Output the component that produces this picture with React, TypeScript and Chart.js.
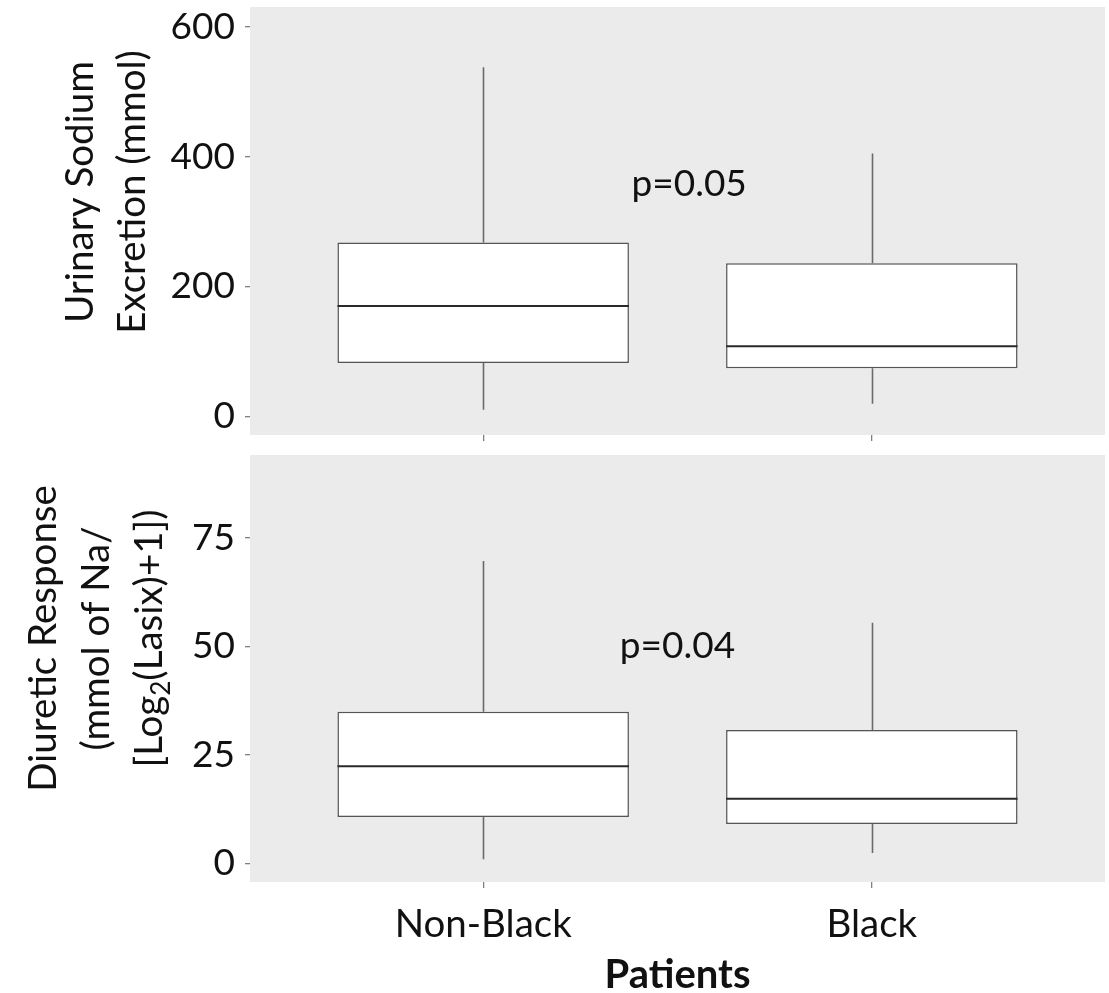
import React, { useEffect, useRef } from 'react';
import { Chart, registerables } from 'chart.js';

Chart.register(...registerables);

// ---------- data ----------
const categories = ['Non-Black', 'Black'];

const sodiumLow = [10, 19];
const sodiumQ1 = [82, 74];
const sodiumMedian = [170, 108];
const sodiumQ3 = [268, 236];
const sodiumHigh = [538, 405];
const sodiumTicks = [0, 200, 400, 600];
const sodiumRange = [-29, 631];
const sodiumPValue = 'p=0.05';
const sodiumPValueAt = [1.53, 358];

const responseLow = [1.0, 2.4];
const responseQ1 = [10.7, 9.1];
const responseMedian = [22.4, 14.9];
const responseQ3 = [34.9, 30.7];
const responseHigh = [69.6, 55.4];
const responseTicks = [0, 25, 50, 75];
const responseRange = [-4.26, 94];
const responsePValue = 'p=0.04';
const responsePValueAt = [1.5, 50];

const xRange = [0.4, 2.6];

type Seg = { t: string; sub?: boolean };
const sodiumTitle: Seg[][] = [[{ t: 'Urinary Sodium' }], [{ t: 'Excretion (mmol)' }]];
const responseTitle: Seg[][] = [
  [{ t: 'Diuretic Response' }],
  [{ t: '(mmol of Na/' }],
  [{ t: '[Log' }, { t: '2', sub: true }, { t: '(Lasix)+1])' }],
];
const xTitle = 'Patients';

// ---------- styling ----------
const FONT = 'Lato, "Open Sans", sans-serif';
const FS = 37;
const XFS = 38.5;
const TFS = 38.5;
const XTFS = 40;
const PANEL_BG = '#EBEBEB';
const TEXT = '#111111';
const TICK_COLOR = '#808080';

interface PanelOpts {
  low: number[];
  q1: number[];
  med: number[];
  q3: number[];
  high: number[];
  ticks: number[];
  range: number[];
  pText: string;
  pAt: number[];
  title: Seg[][];
  titleBaselines: number[];
  titleShift: number;
  showXLabels: boolean;
  xAxisHeight: number;
  padTop: number;
}

function panelPlugin(o: PanelOpts) {
  return {
    id: 'panelParts',
    beforeDraw(chart: any) {
      const { ctx, chartArea: a } = chart;
      ctx.save();
      ctx.fillStyle = PANEL_BG;
      ctx.fillRect(a.left, a.top, a.right - a.left, a.bottom - a.top);
      ctx.restore();
    },
    beforeDatasetsDraw(chart: any) {
      const { ctx } = chart;
      const xs = chart.scales.x;
      const ys = chart.scales.y;
      ctx.save();
      ctx.strokeStyle = '#6a6a6a';
      ctx.lineWidth = 1.6;
      categories.forEach((_, i) => {
        const x = Math.round(xs.getPixelForValue(i + 1)) + 0.5;
        ctx.beginPath();
        ctx.moveTo(x, ys.getPixelForValue(o.q3[i]));
        ctx.lineTo(x, ys.getPixelForValue(o.high[i]));
        ctx.moveTo(x, ys.getPixelForValue(o.q1[i]));
        ctx.lineTo(x, ys.getPixelForValue(o.low[i]));
        ctx.stroke();
      });
      ctx.restore();
    },
    afterDatasetsDraw(chart: any) {
      const { ctx } = chart;
      const xs = chart.scales.x;
      const ys = chart.scales.y;
      const meta = chart.getDatasetMeta(0);
      ctx.save();
      ctx.strokeStyle = '#2a2a2a';
      ctx.lineWidth = 2;
      meta.data.forEach((bar: any, i: number) => {
        const { x, width } = bar.getProps(['x', 'width'], true);
        const y = ys.getPixelForValue(o.med[i]);
        ctx.beginPath();
        ctx.moveTo(x - width / 2, y);
        ctx.lineTo(x + width / 2, y);
        ctx.stroke();
      });
      ctx.fillStyle = TEXT;
      ctx.font = `${FS}px ${FONT}`;
      ctx.textAlign = 'center';
      ctx.textBaseline = 'middle';
      ctx.fillText(o.pText, xs.getPixelForValue(o.pAt[0]), ys.getPixelForValue(o.pAt[1]));
      ctx.restore();
    },
    afterDraw(chart: any) {
      const { ctx, chartArea: a } = chart;
      const cy = (a.top + a.bottom) / 2 + o.titleShift;
      ctx.save();
      ctx.fillStyle = TEXT;
      o.title.forEach((line, li) => {
        ctx.save();
        ctx.translate(o.titleBaselines[li], cy);
        ctx.rotate(-Math.PI / 2);
        ctx.textBaseline = 'alphabetic';
        ctx.textAlign = 'left';
        const fontFor = (s: Seg) => (s.sub ? `${Math.round(TFS * 0.68)}px ${FONT}` : `${TFS}px ${FONT}`);
        let total = 0;
        line.forEach((s) => {
          ctx.font = fontFor(s);
          total += ctx.measureText(s.t).width;
        });
        let x = -total / 2;
        line.forEach((s) => {
          ctx.font = fontFor(s);
          ctx.fillText(s.t, x, s.sub ? TFS * 0.2 : 0);
          x += ctx.measureText(s.t).width;
        });
        ctx.restore();
      });
      if (o.showXLabels) {
        ctx.font = `bold ${XTFS}px ${FONT}`;
        ctx.textAlign = 'center';
        ctx.textBaseline = 'middle';
        ctx.fillText(xTitle, (a.left + a.right) / 2, chart.height - 18);
      }
      ctx.restore();
    },
  };
}

function buildChart(canvas: HTMLCanvasElement, o: PanelOpts) {
  return new Chart(canvas, {
    type: 'bar',
    data: {
      datasets: [
        {
          data: categories.map((_, i) => ({ x: i + 1, y: [o.q1[i], o.q3[i]] })) as any,
          backgroundColor: '#FFFFFF',
          borderColor: '#555555',
          borderWidth: 1.5,
          borderSkipped: false,
          barPercentage: 0.75,
          categoryPercentage: 1,
        },
      ],
    },
    options: {
      responsive: false,
      animation: false,
      devicePixelRatio: 1,
      layout: { padding: { left: 0, right: 4, top: o.padTop, bottom: 0 } },
      plugins: { legend: { display: false }, tooltip: { enabled: false } },
      scales: {
        x: {
          type: 'linear',
          min: xRange[0],
          max: xRange[1],
          offset: false,
          bounds: 'data',
          afterBuildTicks: (s: any) => {
            s.ticks = categories.map((_, i) => ({ value: i + 1 }));
          },
          afterFit: (s: any) => {
            s.height = o.xAxisHeight;
            s.paddingLeft = 0;
            s.paddingRight = 0;
          },
          grid: {
            display: true,
            drawOnChartArea: false,
            drawTicks: true,
            tickLength: 6,
            color: TICK_COLOR,
            lineWidth: 1.3,
            offset: false,
          },
          border: { display: false },
          ticks: {
            display: o.showXLabels,
            autoSkip: false,
            maxRotation: 0,
            padding: 13,
            color: TEXT,
            font: { family: FONT, size: XFS },
            callback: (v: any) => categories[Math.round(Number(v)) - 1] ?? '',
          },
        },
        y: {
          type: 'linear',
          min: o.range[0],
          max: o.range[1],
          bounds: 'data',
          afterBuildTicks: (s: any) => {
            s.ticks = o.ticks.map((v) => ({ value: v }));
          },
          afterFit: (s: any) => {
            s.width = 250;
            s.paddingTop = 0;
            s.paddingBottom = 0;
          },
          grid: {
            display: true,
            drawOnChartArea: false,
            drawTicks: true,
            tickLength: 5,
            color: TICK_COLOR,
            lineWidth: 1.3,
          },
          border: { display: false },
          ticks: {
            padding: 10,
            color: TEXT,
            font: { family: FONT, size: FS },
            callback: (v: any) => String(v),
          },
        },
      },
    } as any,
    plugins: [panelPlugin(o)],
  });
}

export default function App() {
  const topRef = useRef<HTMLCanvasElement>(null);
  const bottomRef = useRef<HTMLCanvasElement>(null);

  useEffect(() => {
    const c1 = buildChart(topRef.current!, {
      low: sodiumLow,
      q1: sodiumQ1,
      med: sodiumMedian,
      q3: sodiumQ3,
      high: sodiumHigh,
      ticks: sodiumTicks,
      range: sodiumRange,
      pText: sodiumPValue,
      pAt: sodiumPValueAt,
      title: sodiumTitle,
      titleBaselines: [93, 145],
      titleShift: -29,
      showXLabels: false,
      xAxisHeight: 10,
      padTop: 7,
    });
    const c2 = buildChart(bottomRef.current!, {
      low: responseLow,
      q1: responseQ1,
      med: responseMedian,
      q3: responseQ3,
      high: responseHigh,
      ticks: responseTicks,
      range: responseRange,
      pText: responsePValue,
      pAt: responsePValueAt,
      title: responseTitle,
      titleBaselines: [56, 109, 162],
      titleShift: -30,
      showXLabels: true,
      xAxisHeight: 111,
      padTop: 10,
    });
    return () => {
      c1.destroy();
      c2.destroy();
    };
  }, []);

  return (
    <div style={{ position: 'absolute', left: 0, top: 0, width: 1109, height: 993, background: '#fff' }}>
      <canvas ref={topRef} width={1109} height={445} style={{ position: 'absolute', left: 0, top: 0, display: 'block' }} />
      <canvas ref={bottomRef} width={1109} height={548} style={{ position: 'absolute', left: 0, top: 445, display: 'block' }} />
    </div>
  );
}
